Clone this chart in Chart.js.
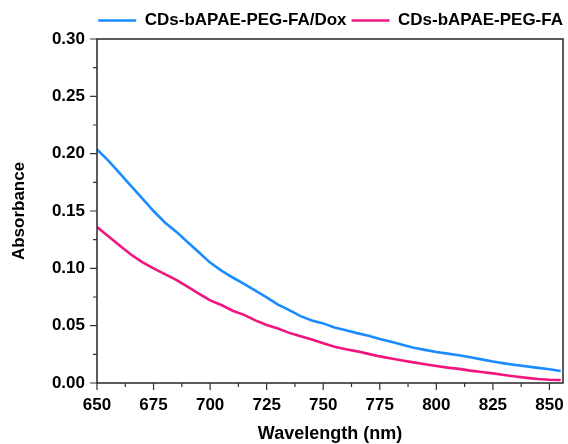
<!DOCTYPE html>
<html>
<head>
<meta charset="utf-8">
<script src="https://cdn.jsdelivr.net/npm/chart.js@4.4.1/dist/chart.umd.min.js"></script>
<style>
  html, body { margin: 0; padding: 0; background: #fff; }
  #wrap { width: 568px; height: 444px; }
</style>
</head>
<body>
<div id="wrap"><canvas id="absChart" width="568" height="444"></canvas></div>
<script>
// wavelength (nm)
var wavelengths = [650, 655, 660, 665, 670, 675, 680, 685, 690, 695,
    700, 705, 710, 715, 720, 725, 730, 735, 740, 745,
    750, 755, 760, 765, 770, 775, 780, 785, 790, 795,
    800, 805, 810, 815, 820, 825, 830, 835, 840, 845, 850, 855];

// CDs-bAPAE-PEG-FA/Dox
var doxValues = [0.2036, 0.194, 0.183, 0.172, 0.161, 0.150, 0.140, 0.132, 0.123, 0.114,
    0.105, 0.098, 0.092, 0.0865, 0.0805, 0.0747, 0.0683, 0.0635, 0.0583, 0.0546,
    0.0520, 0.0485, 0.0460, 0.0435, 0.0413, 0.0384, 0.0359, 0.0334, 0.0308, 0.0289,
    0.0271, 0.0256, 0.0242, 0.0224, 0.0206, 0.0187, 0.0171, 0.0157, 0.0145, 0.0132, 0.0120, 0.0104];

// CDs-bAPAE-PEG-FA
var faValues = [0.136, 0.128, 0.120, 0.112, 0.1055, 0.100, 0.095, 0.090, 0.084, 0.078,
    0.072, 0.068, 0.063, 0.0594, 0.0546, 0.0506, 0.0475, 0.0437, 0.0407, 0.0379,
    0.0347, 0.0317, 0.0295, 0.0276, 0.0254, 0.0232, 0.0214, 0.0196, 0.0180, 0.0163,
    0.0149, 0.0134, 0.0123, 0.0108, 0.0096, 0.0084, 0.0070, 0.0057, 0.0045, 0.0035, 0.0028, 0.0026];

var seriesLabels = ['CDs-bAPAE-PEG-FA/Dox', 'CDs-bAPAE-PEG-FA'];
var xTicks = [650, 675, 700, 725, 750, 775, 800, 825, 850];
var yTicks = [0, 0.05, 0.10, 0.15, 0.20, 0.25, 0.30];

var FONT = 'Arial, "Liberation Sans", sans-serif';
var AXIS = '#333333';

function toPoints(xs, ys) {
    return xs.map(function (x, i) { return { x: x, y: ys[i] }; });
}

// frame + major/minor ticks, placed with the chart's own scales
var framePlugin = {
    id: 'frame',
    afterDraw: function (chart) {
        var ctx = chart.ctx, a = chart.chartArea;
        var xs = chart.scales.x, ys = chart.scales.y;
        ctx.save();
        ctx.strokeStyle = AXIS;
        ctx.lineWidth = 1.6;
        ctx.strokeRect(a.left, a.top, a.right - a.left, a.bottom - a.top);
        ctx.lineWidth = 1.2;
        ctx.beginPath();
        xTicks.forEach(function (v) {
            var p = xs.getPixelForValue(v);
            ctx.moveTo(p, a.bottom); ctx.lineTo(p, a.bottom + 7);
            var m = xs.getPixelForValue(v + 12.5);
            if (m < a.right) { ctx.moveTo(m, a.bottom); ctx.lineTo(m, a.bottom + 4); }
        });
        yTicks.forEach(function (v) {
            var p = ys.getPixelForValue(v);
            ctx.moveTo(a.left, p); ctx.lineTo(a.left - 7, p);
            if (v < 0.3) {
                var m = ys.getPixelForValue(v + 0.025);
                ctx.moveTo(a.left, m); ctx.lineTo(a.left - 4, m);
            }
        });
        ctx.stroke();
        ctx.restore();
    }
};

new Chart(document.getElementById('absChart'), {
    type: 'line',
    data: {
        datasets: [{
            label: seriesLabels[0],
            data: toPoints(wavelengths, doxValues),
            borderColor: '#1a8cff',
            backgroundColor: '#1a8cff',
            borderWidth: 2.6,
            pointRadius: 0,
            tension: 0
        }, {
            label: seriesLabels[1],
            data: toPoints(wavelengths, faValues),
            borderColor: '#f2157f',
            backgroundColor: '#f2157f',
            borderWidth: 2.6,
            pointRadius: 0,
            tension: 0
        }]
    },
    options: {
        responsive: false,
        animation: false,
        layout: { padding: { left: 6, right: 0, top: 7, bottom: 0 } },
        plugins: {
            tooltip: { enabled: false },
            legend: {
                position: 'top',
                align: 'end',
                labels: {
                    usePointStyle: true,
                    pointStyle: 'line',
                    pointStyleWidth: 38,
                    padding: 5,
                    color: '#000',
                    font: { family: FONT, size: 17, weight: 'bold' }
                }
            }
        },
        scales: {
            x: {
                type: 'linear',
                min: 650,
                max: 856,
                grid: { display: false, drawTicks: false },
                border: { display: false },
                afterBuildTicks: function (scale) {
                    scale.ticks = xTicks.map(function (v) { return { value: v }; });
                },
                afterFit: function (scale) {
                    scale.height = 61;
                    scale.paddingLeft = 0;
                    scale.paddingRight = 5;
                },
                ticks: {
                    autoSkip: false,
                    maxRotation: 0,
                    padding: 12,
                    color: '#000',
                    font: { family: FONT, size: 17, weight: 'bold' }
                },
                title: {
                    display: true,
                    text: 'Wavelength (nm)',
                    color: '#000',
                    padding: { top: 6, bottom: -1 },
                    font: { family: FONT, size: 18, weight: 'bold' }
                }
            },
            y: {
                min: 0,
                max: 0.30,
                grid: { display: false, drawTicks: false },
                border: { display: false },
                afterBuildTicks: function (scale) {
                    scale.ticks = yTicks.map(function (v) { return { value: v }; });
                },
                afterFit: function (scale) {
                    scale.width = 91;
                    scale.paddingTop = 0;
                    scale.paddingBottom = 0;
                },
                ticks: {
                    padding: 12,
                    color: '#000',
                    font: { family: FONT, size: 17, weight: 'bold' },
                    callback: function (v) { return Number(v).toFixed(2); }
                },
                title: {
                    display: true,
                    text: 'Absorbance',
                    color: '#000',
                    padding: { top: 3, bottom: 10 },
                    font: { family: FONT, size: 17, weight: 'bold' }
                }
            }
        }
    },
    plugins: [framePlugin]
});
</script>
</body>
</html>
